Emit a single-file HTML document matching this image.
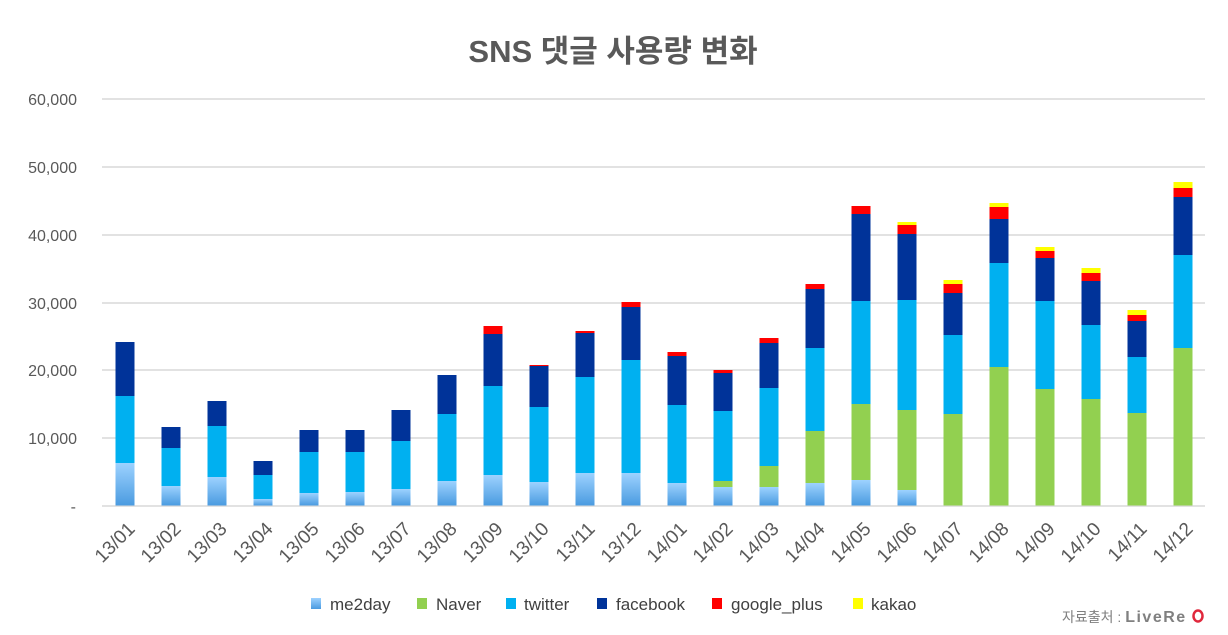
<!DOCTYPE html>
<html><head><meta charset="utf-8"><style>
body{margin:0;background:#fff;}
svg{display:block;font-family:"Liberation Sans","Noto Sans CJK KR",sans-serif;}
</style></head><body>
<svg id="s" width="1228" height="635" viewBox="0 0 1228 635">
<defs><linearGradient id="mg" x1="0" y1="0" x2="0" y2="1"><stop offset="0" stop-color="#9dd2ff"/><stop offset="1" stop-color="#4a9be0"/></linearGradient>
<filter id="sh" x="-20%" y="-5%" width="150%" height="110%"><feDropShadow dx="1.5" dy="0" stdDeviation="1.2" flood-color="#000" flood-opacity="0.25"/></filter></defs>
<text x="613" y="62" text-anchor="middle" font-size="31" font-weight="bold" fill="#595959">SNS 댓글 사용량 변화</text>
<g id="grid"></g><g id="bars"></g><g id="lab"></g>
<g font-size="17" fill="#404040">
<rect x="311" y="598" width="10" height="11" fill="url(#mg)"/><text x="330" y="610">me2day</text>
<rect x="417" y="598" width="10" height="11" fill="#92d050"/><text x="436" y="610">Naver</text>
<rect x="506" y="598" width="10" height="11" fill="#00b0f0"/><text x="524" y="610">twitter</text>
<rect x="597" y="598" width="10" height="11" fill="#003399"/><text x="616" y="610">facebook</text>
<rect x="712" y="598" width="10" height="11" fill="#ff0000"/><text x="731" y="610">google_plus</text>
<rect x="853" y="598" width="10" height="11" fill="#ffff00"/><text x="871" y="610">kakao</text>
</g>
<text x="1062" y="622" font-size="14" fill="#808080">자료출처 : <tspan font-weight="bold" font-size="16" textLength="60">LiveRe</tspan></text>
<ellipse cx="1198" cy="616" rx="4.5" ry="5.5" fill="none" stroke="#e0283c" stroke-width="2.5"/>
</svg>
<script>
var ns="http://www.w3.org/2000/svg";
function el(p,t,a,txt){var e=document.createElementNS(ns,t);for(var k in a)e.setAttribute(k,a[k]);if(txt)e.textContent=txt;document.getElementById(p).appendChild(e);return e;}
var gy=[99,167,235,303,370,438,506],gl=["60,000","50,000","40,000","30,000","20,000","10,000","-"];
for(var i=0;i<7;i++){el("grid","line",{x1:102,x2:1205,y1:gy[i],y2:gy[i],stroke:"#d9d9d9","stroke-width":1.5});
el("grid","text",{x:i==6?76:77,y:gy[i]+6,"text-anchor":"end","font-size":"16",fill:"#595959"},gl[i]);}
var cols=["url(#mg)","#92d050","#00b0f0","#003399","#ff0000","#ffff00"];
var D=[[463,,396,342],[486,,448,427],[477,,426,401],[499,,475,461],[493,,452,430],[492,,452,430],[489,,441,410],[481,,414,375],
[475,,386,334,326],[482,,407,366,365],[473,,377,333,331],[473,,360,307,302],[483,,405,356,352],[487,481,411,373,370],
[487,466,388,343,338],[483,431,348,289,284],[480,404,301,214,206],[490,410,300,234,225,222],[,414,335,293,284,280],
[,367,263,219,207,203],[,389,301,258,251,247],[,399,325,281,273,268],[,413,357,321,315,310],[,348,255,197,188,182]];
var labs=[];for(var y=13;y<=14;y++)for(var m=1;m<=12;m++)labs.push(y+"/"+(m<10?"0":"")+m);
for(var i=0;i<24;i++){var cx=125+46*i,x=cx-9.5,prev=505.5,d=D[i];
var top=Math.min.apply(null,d.filter(function(v){return v!==undefined;}));
el("bars","rect",{x:x,y:top,width:19,height:505.5-top,fill:"#fff",filter:"url(#sh)"});
for(var k=0;k<6;k++){if(d[k]===undefined)continue;el("bars","rect",{x:x,y:d[k],width:19,height:prev-d[k],fill:cols[k]});prev=d[k];}
el("lab","text",{x:0,y:0,"text-anchor":"end","font-size":"19",fill:"#595959",transform:"translate("+(cx+11)+",530) rotate(-45)"},labs[i]);}
</script>
</body></html>
